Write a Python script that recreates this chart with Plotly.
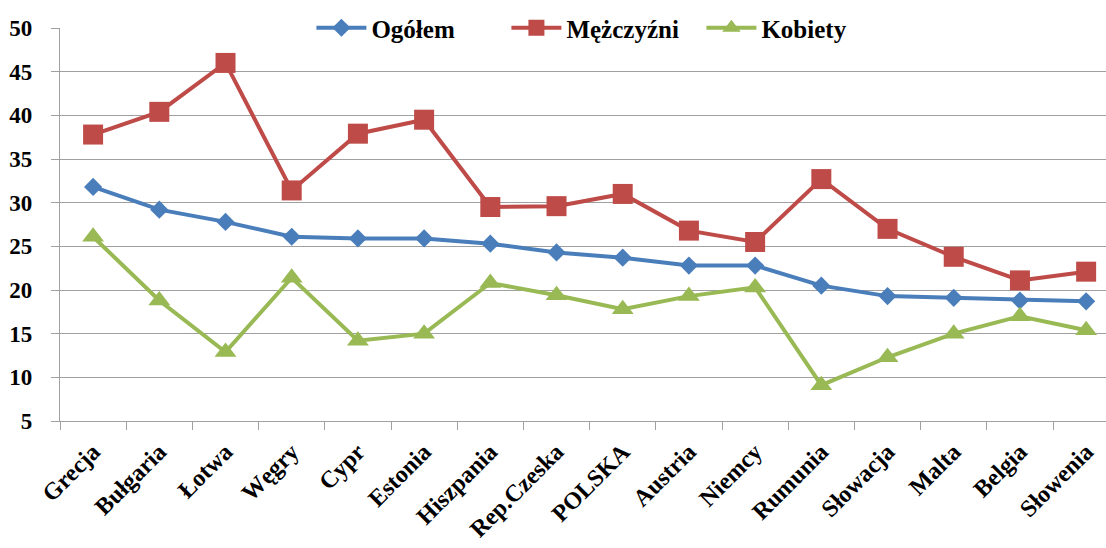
import plotly.graph_objects as go

countries = ["Grecja", "Bułgaria", "Łotwa", "Węgry", "Cypr", "Estonia", "Hiszpania",
             "Rep.Czeska", "POLSKA", "Austria", "Niemcy", "Rumunia", "Słowacja",
             "Malta", "Belgia", "Słowenia"]
ogolem = [31.8, 29.2, 27.8, 26.1, 25.9, 25.9, 25.3, 24.3, 23.7, 22.8, 22.8, 20.5, 19.3, 19.1, 18.8, 18.7]
mezczyzni = [37.8, 40.4, 46.0, 31.4, 37.9, 39.5, 29.5, 29.6, 31.0, 26.8, 25.5, 32.7, 27.0, 23.8, 21.1, 22.1]
kobiety = [26.1, 18.8, 12.9, 21.4, 14.2, 15.0, 20.8, 19.4, 17.8, 19.3, 20.3, 9.1, 12.3, 15.0, 17.0, 15.4]
y_ticks = [5, 10, 15, 20, 25, 30, 35, 40, 45, 50]

FONT = "Liberation Serif, Times New Roman, serif"
GRID = "#A0A0A0"

W, H = 1106, 548
M_L, M_B, PLOT_TOP = 60, 127, 28
paper_h = H - M_B
y_top = (paper_h - PLOT_TOP) / paper_h

fig = go.Figure()
fig.add_trace(go.Scatter(x=countries, y=ogolem, name="Ogółem", mode="lines+markers",
                         line=dict(color="#4A7EBB", width=4),
                         marker=dict(symbol="diamond", size=14, color="#4A7EBB")))
fig.add_trace(go.Scatter(x=countries, y=mezczyzni, name="Mężczyźni", mode="lines+markers",
                         line=dict(color="#BE4B48", width=4),
                         marker=dict(symbol="square", size=20, color="#BE4B48")))
fig.add_trace(go.Scatter(x=countries, y=kobiety, name="Kobiety", mode="lines+markers",
                         line=dict(color="#98B954", width=4),
                         marker=dict(symbol="triangle-up", size=19, color="#98B954")))

fig.update_layout(
    width=W, height=H,
    margin=dict(l=M_L, r=0, t=0, b=M_B, autoexpand=False),
    paper_bgcolor="white", plot_bgcolor="white",
    font=dict(family=FONT, color="black", size=22),
    legend=dict(orientation="h", xref="paper", yref="paper",
                x=0.52, y=y_top, xanchor="center", yanchor="middle",
                bgcolor="rgba(0,0,0,0)",
                font=dict(family=FONT, size=25, color="black", weight="bold"),
                itemwidth=50, tracegroupgap=0,
                entrywidthmode="pixels", entrywidth=130),
    xaxis=dict(type="category", range=[-0.5, 15.3], showgrid=False, automargin=False,
               showline=True, linecolor=GRID, linewidth=1.3,
               ticks="outside", tickson="boundaries", ticklen=8, tickcolor=GRID,
               tickangle=-45, ticklabelstandoff=6,
               tickfont=dict(family=FONT, size=24, color="black", weight="bold")),
    yaxis=dict(range=[5, 50], tickvals=y_ticks, domain=[0, y_top], automargin=False,
               showgrid=True, gridcolor=GRID, gridwidth=1.3,
               showline=True, linecolor=GRID, linewidth=1.3,
               ticks="outside", ticklen=8, tickcolor=GRID, ticklabelstandoff=14,
               zeroline=False,
               tickfont=dict(family=FONT, size=23, color="black", weight="bold")),
)

fig.write_html("out.html", config={"displayModeBar": False},
               post_script="document.body.style.margin='0';")
